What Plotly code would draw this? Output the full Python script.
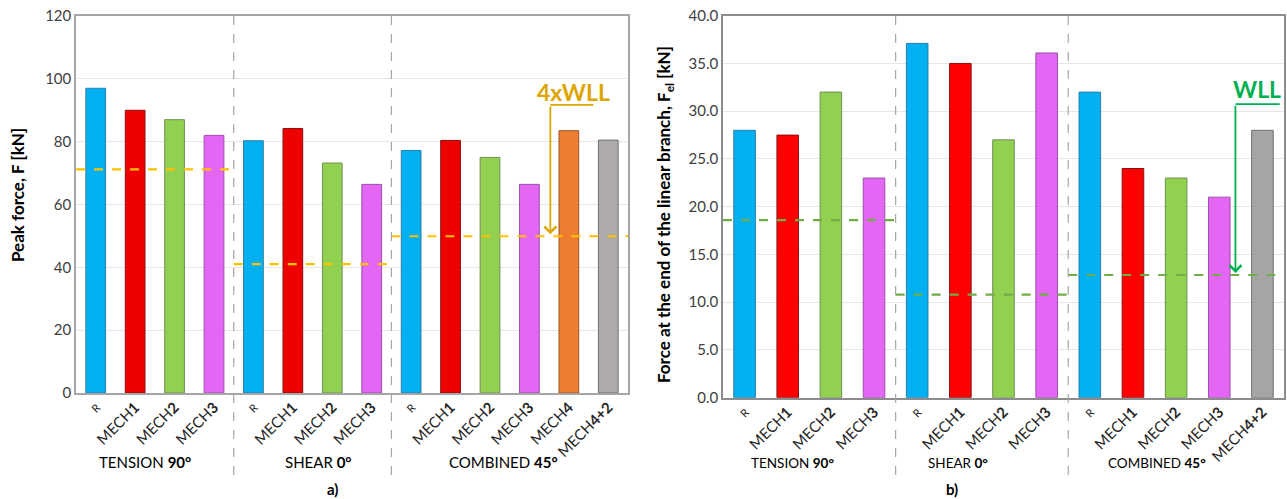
import plotly.graph_objects as go

# ---------------- data ----------------
groups_a = ["TENSION <b>90°</b>", "SHEAR <b>0°</b>", "COMBINED <b>45°</b>"]
cats_a = [["R", "MECH1", "MECH2", "MECH3"],
          ["R", "MECH1", "MECH2", "MECH3"],
          ["R", "MECH1", "MECH2", "MECH3", "MECH4", "MECH4+2"]]
peak_force = [[97.0, 90.0, 87.0, 82.0],
              [80.3, 84.2, 73.2, 66.4],
              [77.2, 80.4, 75.0, 66.4, 83.5, 80.5]]
wll4 = [71.2, 41.0, 49.9]

groups_b = ["TENSION <b>90°</b>", "SHEAR <b>0°</b>", "COMBINED <b>45°</b>"]
cats_b = [["R", "MECH1", "MECH2", "MECH3"],
          ["R", "MECH1", "MECH2", "MECH3"],
          ["R", "MECH1", "MECH2", "MECH3", "MECH4+2"]]
f_el = [[28.0, 27.5, 32.0, 23.0],
        [37.1, 35.0, 27.0, 36.1],
        [32.0, 24.0, 23.0, 21.0, 28.0]]
wll = [18.6, 10.8, 12.85]

colors = {"R": "#00B0F0", "MECH1": "#EE0000", "MECH2": "#92D050",
          "MECH3": "#E466F5", "MECH4": "#ED7D31", "MECH4+2": "#AEAAAA"}
colors_b = dict(colors, MECH1="#FF0000", **{"MECH4+2": "#A5A5A5"})
outlines = {"R": "#2A7FA8", "MECH1": "#8A1010", "MECH2": "#6E8F55",
            "MECH3": "#9A4FA8", "MECH4": "#A0522D", "MECH4+2": "#707070"}

FONT = "Lato"
W, H = 1287, 499

# layout positions (pixels)
group_px_a = [145, 318, 503]
group_px_b = [792, 958, 1157]


def label(c):
    if c == "R":
        return "<span style='font-size:11px'>R</span>"
    return "MECH<b>" + c[4:] + "</b>"


fig = go.Figure()


def build(cats, vals, cmap, xa, ya):
    xs, ys, cs, ls, tt = [], [], [], [], []
    i = 0
    bounds = []
    for g, (cl, vl) in enumerate(zip(cats, vals)):
        start = i
        for c, v in zip(cl, vl):
            xs.append(i); ys.append(v); cs.append(cmap[c]); ls.append(outlines[c]); tt.append(label(c))
            i += 1
        bounds.append((start - 0.5, i - 0.5))
    fig.add_trace(go.Bar(x=xs, y=ys, marker=dict(color=cs, line=dict(color=ls, width=1)),
                         width=0.5, xaxis=xa, yaxis=ya, showlegend=False, hoverinfo="skip"))
    return xs, tt, bounds, i


xs_a, tt_a, bnd_a, n_a = build(cats_a, peak_force, colors, "x", "y")
xs_b, tt_b, bnd_b, n_b = build(cats_b, f_el, colors_b, "x2", "y2")

# WLL dashed lines
for (x0, x1), v in zip(bnd_a, wll4):
    fig.add_shape(type="line", xref="x", yref="y", x0=x0, x1=x1, y0=v, y1=v,
                  line=dict(color="#FFC000", width=2.2, dash="dash"))
for (x0, x1), v in zip(bnd_b, wll):
    fig.add_shape(type="line", xref="x2", yref="y2", x0=x0, x1=x1, y0=v, y1=v,
                  line=dict(color="#70AD47", width=2.2, dash="dash"))

dom_a = [76 / W, 628 / W]
dom_b = [723 / W, 1284 / W]
ydom_a = [1 - 393 / H, 1 - 16 / H]
ydom_b = [1 - 397.7 / H, 1 - 15.7 / H]

# dividers
for (x0, x1) in bnd_a[1:]:
    fig.add_shape(type="line", xref="x", yref="paper", x0=x0, x1=x0, y0=1 - 475 / H, y1=ydom_a[1],
                  line=dict(color="#A6A6A6", width=1.2, dash="dash"))
for (x0, x1) in bnd_b[1:]:
    fig.add_shape(type="line", xref="x2", yref="paper", x0=x0, x1=x0, y0=1 - 475 / H, y1=ydom_b[1],
                  line=dict(color="#A6A6A6", width=1.2, dash="dash"))

# group labels
for g, px in zip(groups_a, group_px_a):
    fig.add_annotation(x=px / W, y=1 - 462 / H, xref="paper", yref="paper", text=g, showarrow=False,
                       xanchor="center", yanchor="middle", font=dict(family=FONT, size=15, color="#000000"))
for g, px in zip(groups_b, group_px_b):
    fig.add_annotation(x=px / W, y=1 - 463 / H, xref="paper", yref="paper", text=g, showarrow=False,
                       xanchor="center", yanchor="middle", font=dict(family=FONT, size=13.5, color="#000000"))

# panel letters
fig.add_annotation(x=325 / W, y=1 - 489 / H, xref="paper", yref="paper", text="<b>a)</b>",
                   showarrow=False, yanchor="middle", font=dict(family=FONT, size=15, color="#000"))
fig.add_annotation(x=960 / W, y=1 - 489 / H, xref="paper", yref="paper", text="<b>b)</b>",
                   showarrow=False, yanchor="middle", font=dict(family=FONT, size=15, color="#000"))

# y titles
fig.add_annotation(x=17 / W, y=1 - 195 / H, xref="paper", yref="paper",
                   text="<b>Peak force, F [kN]</b>", textangle=-90, showarrow=False,
                   xanchor="center", yanchor="middle",
                   font=dict(family=FONT, size=17, color="#000"))
fig.add_annotation(x=665 / W, y=1 - 215 / H, xref="paper", yref="paper",
                   text="<b>Force at the end of the linear branch, F<sub>el</sub> [kN]</b>", textangle=-90,
                   xanchor="center", yanchor="middle",
                   showarrow=False, font=dict(family=FONT, size=17, color="#000"))

# 4xWLL callout
gold = "#DDA500"
fig.add_shape(type="line", xref="x", yref="y", x0=11.53, x1=12.62, y0=91.7, y1=91.7,
              line=dict(color=gold, width=1.8))
fig.add_annotation(x=11.53, y=wll4[2] + 0.6, ax=11.53, ay=91.7, xref="x", yref="y", axref="x", ayref="y",
                   text="", showarrow=True, arrowhead=4, arrowsize=1.3, arrowwidth=1.8, arrowcolor=gold)
fig.add_annotation(x=12.11, y=95.8, xref="x", yref="y", text="<b>4xWLL</b>", showarrow=False,
                   font=dict(family=FONT, size=23, color=gold))

# WLL callout
green = "#00B050"
fig.add_shape(type="line", xref="x2", yref="y2", x0=11.375, x1=12.4, y0=30.74, y1=30.74,
              line=dict(color=green, width=1.8))
fig.add_annotation(x=11.375, y=wll[2] + 0.2, ax=11.375, ay=30.74, xref="x2", yref="y2", axref="x2", ayref="y2",
                   text="", showarrow=True, arrowhead=4, arrowsize=1.3, arrowwidth=1.8, arrowcolor=green)
fig.add_annotation(x=11.88, y=32.3, xref="x2", yref="y2", text="<b>WLL</b>", showarrow=False,
                   font=dict(family=FONT, size=23, color=green))

tickfont = dict(family=FONT, size=15, color="#262626")
yfont = dict(family=FONT, size=15, color="#404040")
fig.update_layout(
    width=W, height=H, margin=dict(l=0, r=0, t=0, b=0),
    paper_bgcolor="white", plot_bgcolor="white", bargap=0.5,
    xaxis=dict(domain=dom_a, anchor="y", range=[-0.5, n_a - 0.5], tickmode="array", tickvals=xs_a,
               ticktext=tt_a, tickangle=-45, tickfont=tickfont, showline=True, mirror=True,
               linecolor="#A6A6A6", linewidth=1.5, showgrid=False, ticks="", automargin=False,
               ticklabelstandoff=-2),
    yaxis=dict(domain=ydom_a, anchor="x", range=[0, 120], dtick=20, tickfont=yfont, showline=True,
               mirror=True, linecolor="#A6A6A6", linewidth=1.5, gridcolor="#E6E6E6", gridwidth=1,
               zeroline=False, ticks="", automargin=False),
    xaxis2=dict(domain=dom_b, anchor="y2", range=[-0.5, n_b - 0.5], tickmode="array", tickvals=xs_b,
                ticktext=tt_b, tickangle=-45, tickfont=tickfont, showline=True, mirror=True,
                linecolor="#8C8C8C", linewidth=1.5, showgrid=False, ticks="", automargin=False,
                ticklabelstandoff=-2),
    yaxis2=dict(domain=ydom_b, anchor="x2", range=[0, 40], dtick=5, tickformat=".1f", tickfont=yfont,
                showline=True, mirror=True, linecolor="#8C8C8C", linewidth=1.5, gridcolor="#E6E6E6",
                gridwidth=1, zeroline=False, ticks="", automargin=False),
)

fig.write_html("out.html")
